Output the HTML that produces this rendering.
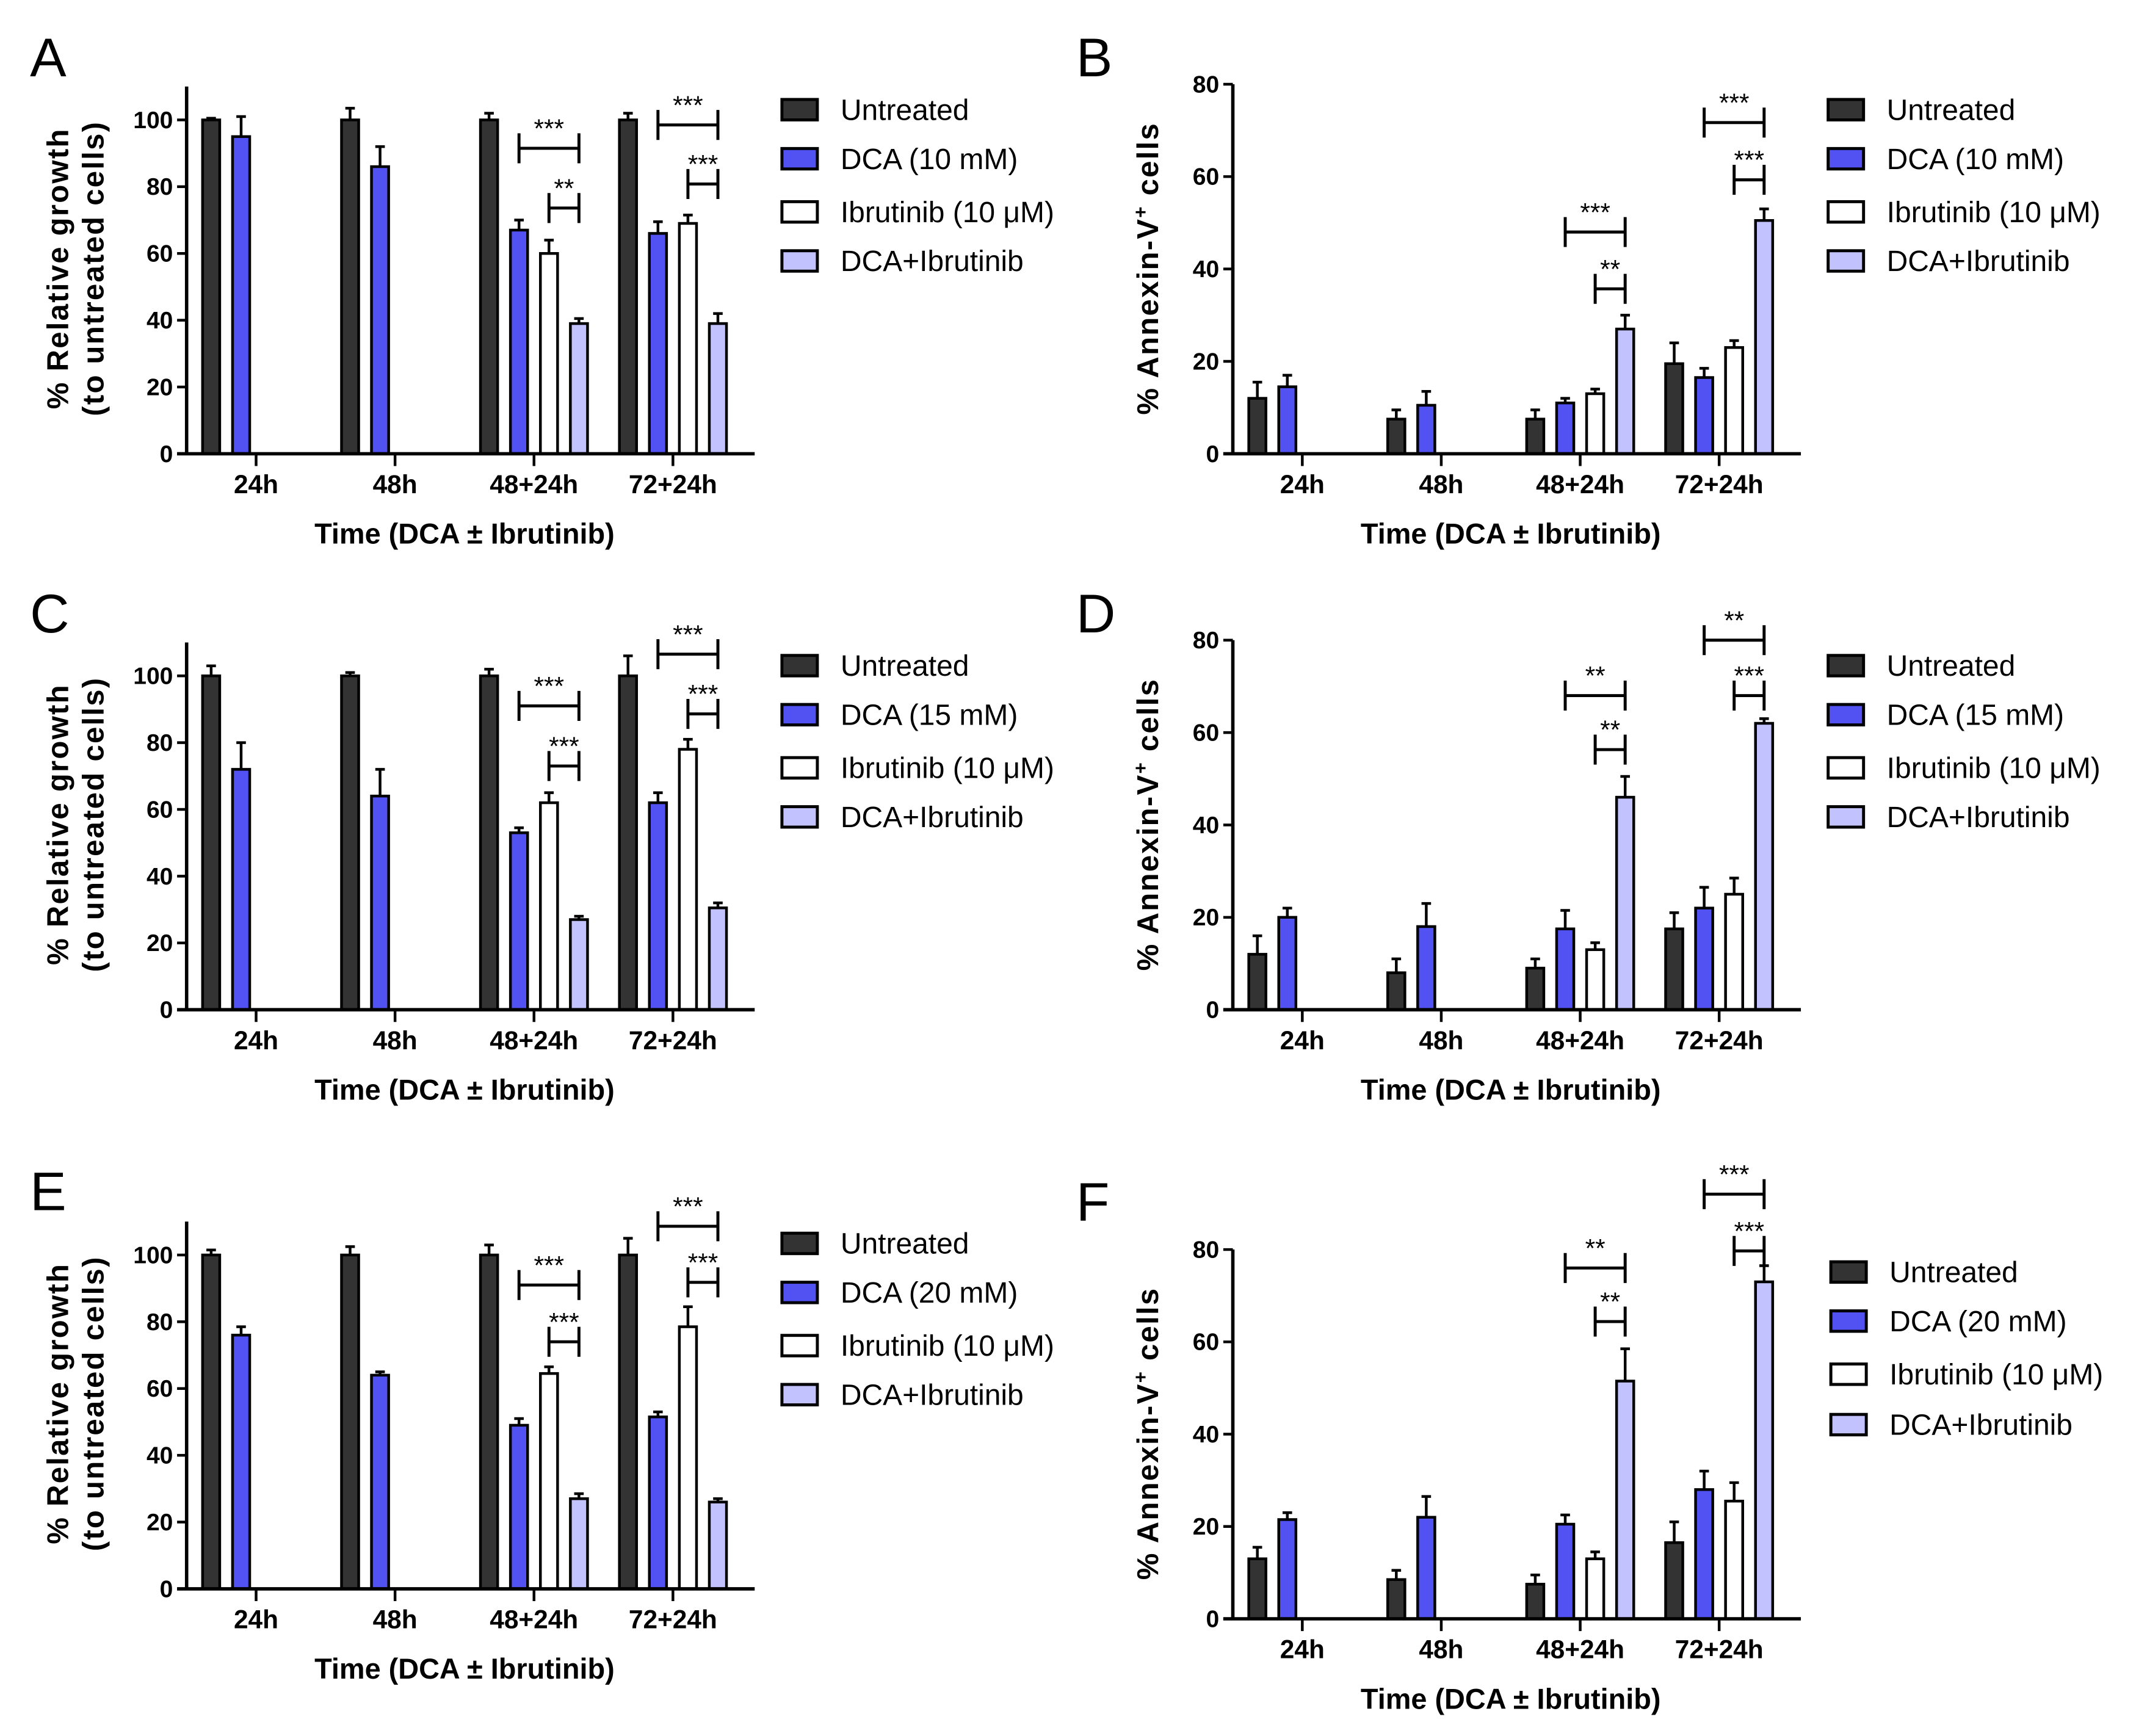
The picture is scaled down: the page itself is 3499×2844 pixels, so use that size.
<!DOCTYPE html>
<html><head><meta charset="utf-8"><style>
html,body{margin:0;padding:0;background:#fff}
svg{display:block}
text{font-family:"Liberation Sans",Arial,sans-serif;fill:#000}
</style></head><body>
<svg id="fig" xmlns="http://www.w3.org/2000/svg" width="3499" height="2844" viewBox="0 0 1568 1274" preserveAspectRatio="none"></svg>
<script>
const groups = ["24h","48h","48+24h","72+24h"];
const seriesNames = ["Untreated","DCA","Ibrutinib (10 \u03bcM)","DCA+Ibrutinib"];
const valsA = [[100,95,null,null],[100,86,null,null],[100,67,60,39],[100,66,69,39]];
const errsA = [[0.5,6,0,0],[3.5,6,0,0],[2,3,4,1.5],[2,3.5,2.5,3]];
const valsB = [[12,14.5,null,null],[7.5,10.5,null,null],[7.5,11,13,27],[19.5,16.5,23,50.5]];
const errsB = [[3.5,2.5,0,0],[2,3,0,0],[2,1,1,3],[4.5,2,1.5,2.5]];
const valsC = [[100,72,null,null],[100,64,null,null],[100,53,62,27],[100,62,78,30.5]];
const errsC = [[3,8,0,0],[1,8,0,0],[2,1.5,3,1],[6,3,3,1.5]];
const valsD = [[12,20,null,null],[8,18,null,null],[9,17.5,13,46],[17.5,22,25,62]];
const errsD = [[4,2,0,0],[3,5,0,0],[2,4,1.5,4.5],[3.5,4.5,3.5,1]];
const valsE = [[100,76,null,null],[100,64,null,null],[100,49,64.5,27],[100,51.5,78.5,26]];
const errsE = [[1.5,2.5,0,0],[2.5,1,0,0],[3,2,2,1.5],[5,1.5,6,1]];
const valsF = [[13,21.5,null,null],[8.5,22,null,null],[7.5,20.5,13,51.5],[16.5,28,25.5,73]];
const errsF = [[2.5,1.5,0,0],[2,4.5,0,0],[2,2,1.5,7],[4.5,4,4,3.5]];
const brA = [[2,1,3,91.5,"***"],[2,2,3,73.6,"**"],[3,1,3,98.5,"***"],[3,2,3,80.8,"***"]];
const brB = [[2,1,3,48,"***"],[2,2,3,35.7,"**"],[3,1,3,71.7,"***"],[3,2,3,59.3,"***"]];
const brC = [[2,1,3,91,"***"],[2,2,3,73,"***"],[3,1,3,106.5,"***"],[3,2,3,88.6,"***"]];
const brD = [[2,1,3,68,"**"],[2,2,3,56.3,"**"],[3,1,3,80,"**"],[3,2,3,68,"***"]];
const brE = [[2,1,3,91,"***"],[2,2,3,74,"***"],[3,1,3,108.6,"***"],[3,2,3,91.8,"***"]];
const brF = [[2,1,3,76,"**"],[2,2,3,64.4,"**"],[3,1,3,92,"***"],[3,2,3,79.7,"***"]];
const ticksGrowth = [0,20,40,60,80,100];
const ticksAnnex = [0,20,40,60,80];

const colors = ["#333333","#5252f2","#ffffff","#c2c2ff"];
const NS = "http://www.w3.org/2000/svg";
const svg = document.getElementById("fig");
function mk(tag, attrs, parent, txt){
  const e = document.createElementNS(NS, tag);
  for (const k in attrs) e.setAttribute(k, attrs[k]);
  if (txt !== undefined) e.textContent = txt;
  (parent || svg).appendChild(e);
  return e;
}

function panel(opt){
  const g = mk("g", {});
  
  
  const ax = opt.ax, y0 = opt.y0, ppu = opt.ppu;
  const yS = v => y0 - v * ppu;
  const xT = i => ax + 51 + i * 102;
  const offs = [-33,-11,11,33];
  const bw = 12.6;
  const L = mk("text", {x: opt.lx, y: opt.ly, "font-size": 40}, g, opt.letter);
  
  
  opt.vals.forEach((row, gi) => {
    row.forEach((v, si) => {
      if (v === null) return;
      const cx = xT(gi) + offs[si];
      const e = opt.errs[gi][si];
      const eb = mk("line", {x1: cx, x2: cx, y1: yS(v), y2: yS(v + e), stroke: "#000", "stroke-width": 2}, g);
      
      
      const cap = mk("line", {x1: cx - 3.5, x2: cx + 3.5, y1: yS(v + e), y2: yS(v + e), stroke: "#000", "stroke-width": 2}, g);
      
      
      const r = mk("rect", {x: cx - bw/2, y: yS(v), width: bw, height: v * ppu, fill: colors[si], stroke: "#000", "stroke-width": 2}, g);
      
      
    });
  });
  const yTop = yS(opt.ymax);
  const ya = mk("line", {x1: ax, x2: ax, y1: y0 + 1, y2: yTop, stroke: "#000", "stroke-width": 2.5}, g);
  
  
  const xa = mk("line", {x1: ax - 7, x2: ax + 417, y1: y0, y2: y0, stroke: "#000", "stroke-width": 2.5}, g);
  
  
  opt.ticks.forEach(t => {
    mk("line", {x1: ax - 7, x2: ax, y1: yS(t), y2: yS(t), stroke: "#000", "stroke-width": 2}, g);
    const tl = mk("text", {x: ax - 10, y: yS(t) + 6, "font-size": 17.5, "font-weight": "bold", "text-anchor": "end"}, g, String(t));
    
    
  });
  groups.forEach((lab, gi) => {
    mk("line", {x1: xT(gi), x2: xT(gi), y1: y0, y2: y0 + 9, stroke: "#000", "stroke-width": 2}, g);
    const tl = mk("text", {x: xT(gi), y: y0 + 29, "font-size": 19, "font-weight": "bold", "text-anchor": "middle"}, g, lab);
    
    
  });
  const xt = mk("text", {x: ax + 204, y: y0 + 66, "font-size": 21, "font-weight": "bold", "text-anchor": "middle"}, g, "Time (DCA \u00b1 Ibrutinib)");
  
  
  const cy = opt.ycenter;
  if (opt.kind === "growth") {
    const t1 = mk("text", {x: 0, y: 0, "font-size": 22, "font-weight": "bold", "text-anchor": "middle", "letter-spacing": 1, transform: `translate(${ax-87},${cy}) rotate(-90)`}, g, "% Relative growth");
    
    
    const t2 = mk("text", {x: 0, y: 0, "font-size": 22, "font-weight": "bold", "text-anchor": "middle", "letter-spacing": 1, transform: `translate(${ax-61},${cy}) rotate(-90)`}, g, "(to untreated cells)");
    
    
  } else {
    const t1 = mk("text", {x: 0, y: 0, "font-size": 22, "font-weight": "bold", "text-anchor": "middle", "letter-spacing": 1, transform: `translate(${ax-55},${cy}) rotate(-90)`}, g);
    
    
    mk("tspan", {}, t1, "% Annexin-V");
    mk("tspan", {dy: -8, "font-size": 14}, t1, "+");
    mk("tspan", {dy: 8}, t1, " cells");
  }
  opt.br.forEach(b => {
    const x1 = xT(b[0]) + offs[b[1]], x2 = xT(b[0]) + offs[b[2]], y = yS(b[3]);
    const p = mk("path", {d: `M${x1},${y-11}V${y+11}M${x1},${y}H${x2}M${x2},${y-11}V${y+11}`, stroke: "#000", "stroke-width": 2.2, fill: "none"}, g);
    
    
    const s = mk("text", {x: (x1 + x2) / 2, y: y - 8, "font-size": 19, "text-anchor": "middle"}, g, b[4]);
    
    
  });
  const names = ["Untreated", "DCA (" + opt.dose + " mM)", "Ibrutinib (10 \u03bcM)", "DCA+Ibrutinib"];
  opt.legY.forEach((ly, i) => {
    const lg = mk("g", {}, g);
    
    
    mk("rect", {x: opt.legX, y: ly - 7, width: 26, height: 15, fill: colors[i], stroke: "#000", "stroke-width": 2.2}, lg);
    mk("text", {x: opt.legX + 43, y: ly + 8, "font-size": 21.5}, lg, names[i]);
  });
}

panel({letter:"A", lx:22, ly:56, ax:137, y0:333, ppu:2.45, ymax:110, ticks:ticksGrowth, vals:valsA, errs:errsA, br:brA, kind:"growth", ycenter:197, legX:574, legY:[80,116,155,191], dose:10});
panel({letter:"B", lx:790, ly:56, ax:905, y0:333, ppu:3.39, ymax:80, ticks:ticksAnnex, vals:valsB, errs:errsB, br:brB, kind:"annex", ycenter:197, legX:1342, legY:[80,116,155,191], dose:10});
panel({letter:"C", lx:22, ly:464, ax:137, y0:741, ppu:2.45, ymax:110, ticks:ticksGrowth, vals:valsC, errs:errsC, br:brC, kind:"growth", ycenter:605, legX:574, legY:[488,524,563,599], dose:15});
panel({letter:"D", lx:790, ly:464, ax:905, y0:741, ppu:3.39, ymax:80, ticks:ticksAnnex, vals:valsD, errs:errsD, br:brD, kind:"annex", ycenter:605, legX:1342, legY:[488,524,563,599], dose:15});
panel({letter:"E", lx:22, ly:888, ax:137, y0:1166, ppu:2.45, ymax:110, ticks:ticksGrowth, vals:valsE, errs:errsE, br:brE, kind:"growth", ycenter:1030, legX:574, legY:[912,948,987,1023], dose:20});
panel({letter:"F", lx:790, ly:896, ax:905, y0:1188, ppu:3.3875, ymax:80, ticks:ticksAnnex, vals:valsF, errs:errsF, br:brF, kind:"annex", ycenter:1052, legX:1344, legY:[933,969,1008,1045], dose:20});
</script>
</body></html>
